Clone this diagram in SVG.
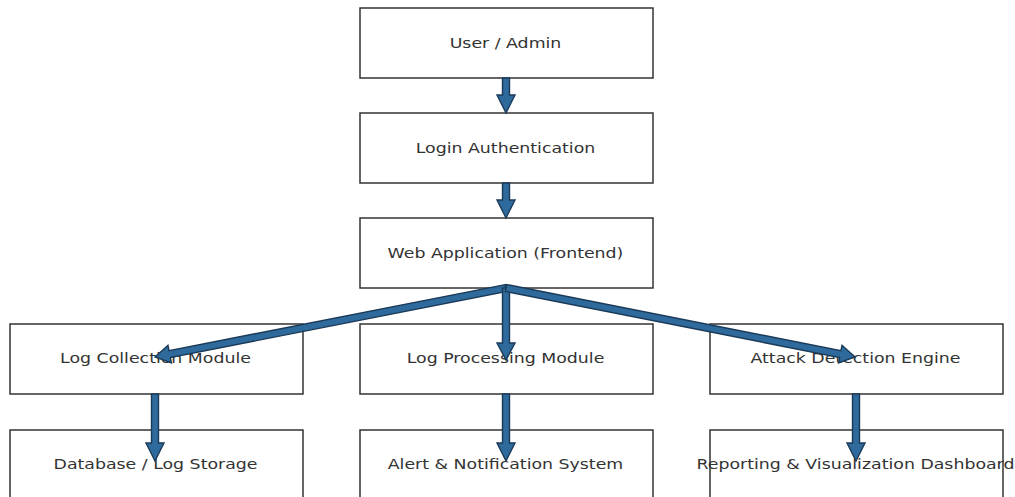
<svg xmlns="http://www.w3.org/2000/svg" width="1015" height="497" viewBox="0 0 1015 497">
  <style>
    .box { fill: #ffffff; stroke: #333333; stroke-width: 1.5; }
    .label { font-family: "DejaVu Sans", sans-serif; font-size: 14px; fill: #333333; text-anchor: middle; }
    .arrow { fill: #2e6a9c; stroke: #1b3a57; stroke-width: 1.4; stroke-linejoin: miter; }
  </style>
  <rect width="1015" height="497" fill="#ffffff"/>

  <!-- labels are drawn slightly wide: scale(1.24,1) around each anchor -->
  <g id="node-user">
    <rect class="box" x="360" y="8" width="293" height="70"/>
    <text class="label" transform="translate(505.5,48) scale(1.24,1)">User / Admin</text>
  </g>
  <g id="node-login">
    <rect class="box" x="360" y="113" width="293" height="70"/>
    <text class="label" transform="translate(505.5,153) scale(1.24,1)">Login Authentication</text>
  </g>
  <g id="node-webapp">
    <rect class="box" x="360" y="218" width="293" height="70"/>
    <text class="label" transform="translate(505.5,258) scale(1.24,1)">Web Application (Frontend)</text>
  </g>
  <g id="node-logcollection">
    <rect class="box" x="10" y="324" width="293" height="70"/>
    <text class="label" transform="translate(155.5,363) scale(1.24,1)">Log Collection Module</text>
  </g>
  <g id="node-logprocessing">
    <rect class="box" x="360" y="324" width="293" height="70"/>
    <text class="label" transform="translate(505.5,363) scale(1.24,1)">Log Processing Module</text>
  </g>
  <g id="node-attackdetection">
    <rect class="box" x="710" y="324" width="293" height="70"/>
    <text class="label" transform="translate(855.5,363) scale(1.24,1)">Attack Detection Engine</text>
  </g>
  <g id="node-database">
    <rect class="box" x="10" y="430" width="293" height="80"/>
    <text class="label" transform="translate(155.5,469) scale(1.24,1)">Database / Log Storage</text>
  </g>
  <g id="node-alert">
    <rect class="box" x="360" y="430" width="293" height="80"/>
    <text class="label" transform="translate(505.5,469) scale(1.24,1)">Alert &amp; Notification System</text>
  </g>
  <g id="node-reporting">
    <rect class="box" x="710" y="430" width="293" height="80"/>
    <text class="label" transform="translate(855.5,469) scale(1.24,1)">Reporting &amp; Visualization Dashboard</text>
  </g>

  <g id="connectors">
    <!-- user -> login -->
    <polygon class="arrow" points="502.5,78 502.5,95 497,95 506,113 515,95 509.5,95 509.5,78"/>
    <!-- login -> web app -->
    <polygon class="arrow" points="502.5,183 502.5,200 497,200 506,218 515,200 509.5,200 509.5,183"/>
    <!-- web app -> log collection -->
    <polygon class="arrow" points="505.33,284.57 169.05,350.68 167.98,345.28 155,357 171.46,362.94 170.39,357.54 506.68,291.43"/>
    <!-- web app -> log processing -->
    <polygon class="arrow" points="502.5,288 502.5,343 497,343 506,360 515,343 509.5,343 509.5,288"/>
    <!-- web app -> attack detection -->
    <polygon class="arrow" points="506.68,284.57 840.96,350.66 842.03,345.26 855,357 838.54,362.92 839.61,357.52 505.32,291.43"/>
    <!-- log collection -> database -->
    <polygon class="arrow" points="151.5,394 151.5,443 146,443 155,461 164,443 158.5,443 158.5,394"/>
    <!-- log processing -> alert -->
    <polygon class="arrow" points="502.5,394 502.5,443 497,443 506,461 515,443 509.5,443 509.5,394"/>
    <!-- attack detection -> reporting -->
    <polygon class="arrow" points="852.5,394 852.5,443 847,443 856,461 865,443 859.5,443 859.5,394"/>
  </g>
</svg>
